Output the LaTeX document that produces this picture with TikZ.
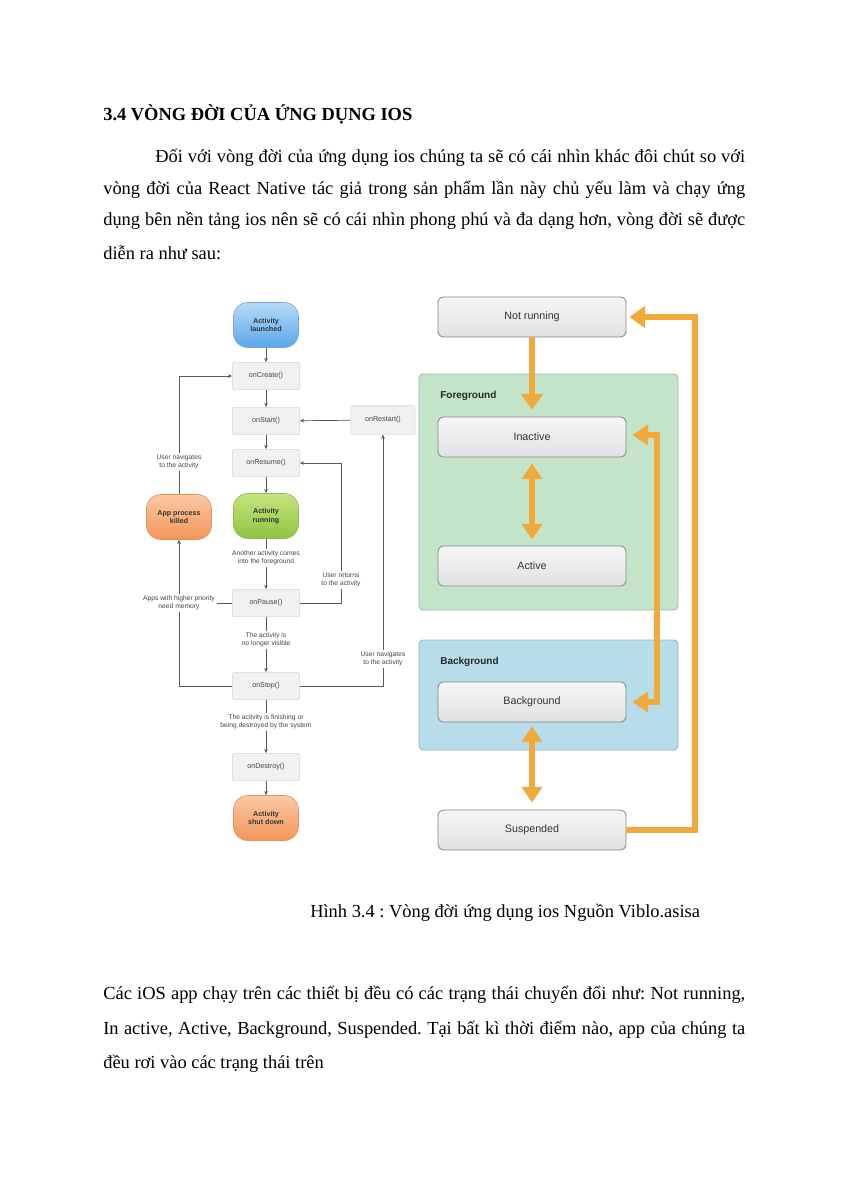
\documentclass[tikz,border=0pt]{standalone}
\usepackage{fontspec}
\setmainfont{Liberation Serif}
\newfontfamily\dsf{Liberation Sans}
\usetikzlibrary{arrows.meta,calc}
\frenchspacing
\definecolor{boxfill}{HTML}{F1F1F1}
\definecolor{boxline}{HTML}{D6D6D6}
\definecolor{lineg}{HTML}{5A5A5A}
\definecolor{labtext}{HTML}{444444}
\definecolor{blueT}{HTML}{B6DAF7}
\definecolor{blueB}{HTML}{5AA6EC}
\definecolor{blueL}{HTML}{79A7D6}
\definecolor{greenT}{HTML}{C6E47E}
\definecolor{greenB}{HTML}{8DC540}
\definecolor{greenL}{HTML}{93B85A}
\definecolor{orT}{HTML}{FBC9A3}
\definecolor{orB}{HTML}{F2955A}
\definecolor{orL}{HTML}{E5915C}
\definecolor{fgfill}{HTML}{C4E4CA}
\definecolor{fgline}{HTML}{9DBFA3}
\definecolor{bgfill}{HTML}{B7DDEA}
\definecolor{bgline}{HTML}{92B8C6}
\definecolor{orng}{HTML}{F0A93A}
\definecolor{stTop}{HTML}{F6F6F6}
\definecolor{stBot}{HTML}{E1E1E5}
\definecolor{stLine}{HTML}{7F8A80}
\begin{document}
\begin{tikzpicture}[x=0.7pt,y=-0.7pt,
  body/.style={anchor=base west, inner sep=0pt, font=\fontsize{12.9}{15}\selectfont\frenchspacing},
  lbox/.style={draw=boxline, fill=boxfill, rounded corners=1pt, minimum width=47pt, minimum height=19pt, inner sep=0pt, font=\dsf\fontsize{5}{6}\selectfont, text=labtext},
  pill/.style={rounded corners=10pt, minimum width=45.5pt, minimum height=31.5pt, inner sep=0pt, align=center, font=\dsf\bfseries\fontsize{5}{6}\selectfont, text=black!80},
  bluepill/.style={pill, draw=blueL, top color=blueT, bottom color=blueB},
  greenpill/.style={pill, draw=greenL, top color=greenT, bottom color=greenB},
  orpill/.style={pill, draw=orL, top color=orT, bottom color=orB},
  lab/.style={inner sep=1pt, align=center, font=\dsf\fontsize{4.7}{5.7}\selectfont, text=labtext},
  conn/.style={draw=lineg, line width=0.5pt},
  arr/.style={conn, -{Stealth[length=3pt,width=2.6pt]}},
  state/.style={draw=stLine, line width=0.6pt, rounded corners=4pt, top color=stTop, bottom color=stBot, minimum width=131.6pt, minimum height=28pt, inner sep=0pt, font=\dsf\fontsize{7.5}{9}\selectfont, text=black!80},
  group/.style={rounded corners=3pt, line width=0.6pt, inner sep=0pt},
  glab/.style={anchor=west, inner sep=0pt, font=\dsf\bfseries\fontsize{7}{8}\selectfont, text=black!85},
  oline/.style={draw=orng, line width=4.2pt, line join=miter},
  oarr/.style={oline, -{Triangle[width=15pt,length=11pt]}},
  oboth/.style={oline, {Triangle[width=14pt,length=11pt]}-{Triangle[width=14pt,length=11pt]}}
]
\useasboundingbox[fill=white] (0,0) rectangle (848,1200);

% ---------- text ----------
\node[body, font=\fontsize{12.9}{15}\selectfont\bfseries] (head) at (103,120) {3.4 VÒNG ĐỜI CỦA ỨNG DỤNG IOS};
\node[body] (p1) at (155,162) {\makebox[413pt][s]{Đối với vòng đời của ứng dụng ios chúng ta sẽ có cái nhìn khác đôi chút so với}};
\node[body] (p2) at (103,194) {\makebox[449.4pt][s]{vòng đời của React Native tác giả trong sản phẩm lần này chủ yếu làm và chạy ứng}};
\node[body] (p3) at (103,225) {\makebox[449.4pt][s]{dụng bên nền tảng ios nên sẽ có cái nhìn phong phú và đa dạng hơn, vòng đời sẽ được}};
\node[body] (p4) at (103,259) {diễn ra như sau:};

\node[body] (cap) at (310,917) {Hình 3.4 : Vòng đời ứng dụng ios Nguồn Viblo.asisa};

\node[body] (q1) at (103,999) {\makebox[449.4pt][s]{Các iOS app chạy trên các thiết bị đều có các trạng thái chuyển đổi như: Not running,}};
\node[body] (q2) at (103,1034) {\makebox[449.4pt][s]{In active, Active, Background, Suspended. Tại bất kì thời điểm nào, app của chúng ta}};
\node[body] (q3) at (103,1068) {đều rơi vào các trạng thái trên};

% ---------- Android lifecycle ----------
\node[bluepill] (launch) at (266,325) {Activity\\launched};
\node[lbox] (create) at (266,376) {onCreate()};
\node[lbox] (start) at (266,421) {onStart()};
\node[lbox] (resume) at (266,463) {onResume()};
\node[greenpill] (running) at (266,516) {Activity\\running};
\node[lab] (t1) at (266,558) {Another activity comes\\into the foreground};
\node[lbox] (pause) at (266,603) {onPause()};
\node[lab] (t2) at (266,640) {The activity is\\no longer visible};
\node[lbox] (stop) at (266,686) {onStop()};
\node[lab] (t3) at (266,722) {The activity is finishing or\\being destroyed by the system};
\node[lbox] (destroy) at (266,767) {onDestroy()};
\node[orpill] (shut) at (266,818) {Activity\\shut down};

\node[orpill] (killed) at (179,517) {App process\\killed};
\node[lab] (tnav) at (179,462) {User navigates\\to the activity};
\node[lab] (tapps) at (179,603) {Apps with higher priority\\need memory};

\node[lbox, minimum width=45pt, minimum height=20pt] (restart) at (383,420) {onRestart()};
\node[lab] (tret) at (341,580) {User returns\\to the activity};
\node[lab] (tnav2) at (383,659) {User navigates\\to the activity};

\draw[arr] (launch) -- (create);
\draw[arr] (create) -- (start);
\draw[arr] (start) -- (resume);
\draw[arr] (resume) -- (running);
\draw[conn] (running) -- (t1);
\draw[arr] (t1) -- (pause);
\draw[conn] (pause) -- (t2);
\draw[arr] (t2) -- (stop);
\draw[conn] (stop) -- (t3);
\draw[arr] (t3) -- (destroy);
\draw[arr] (destroy) -- (shut);

\draw[arr] (restart) -- (start);
\draw[conn] (stop.east) -| (tnav2.south);
\draw[arr] (tnav2.north) -- (restart.south);
\draw[conn] (pause.east) -| (tret.south);
\draw[arr] (tret.north) |- (resume.east);

\draw[conn] (stop.west) -| (tapps.south);
\draw[arr] (tapps.north) -- (killed.south);
\draw[conn] (pause.west) -- (tapps.east);
\draw[conn] (killed.north) -- (tnav.south);
\draw[arr] (tnav.north) |- (create.west);

% ---------- iOS states ----------
\node[group, draw=fgline, fill=fgfill, minimum width=181.3pt, minimum height=165.2pt] (fg) at (548.5,492) {};
\node[group, draw=bgline, fill=bgfill, minimum width=181.3pt, minimum height=77pt] (bg) at (548.5,695) {};
\node[glab] (fgl) at (440,396) {Foreground};
\node[glab] (bgl) at (440,662) {Background};

\node[state] (notrun) at (532,317) {Not running};
\node[state] (inact) at (532,437) {Inactive};
\node[state] (act) at (532,566) {Active};
\node[state] (bgs) at (532,702) {Background};
\node[state] (susp) at (532,830) {Suspended};

\coordinate (nrR) at ($(notrun.east)+(3,0)$);
\coordinate (iaR) at ($(inact.east)+(6,-2)$);
\coordinate (bgR) at ($(bgs.east)+(6,0)$);

\draw[oarr] (notrun.south) -- ($(inact.north)+(0,-7)$);
\draw[oboth] ($(inact.south)+(0,6)$) -- ($(act.north)+(0,-6)$);
\draw[oboth] ($(bgs.south)+(0,4)$) -- ($(susp.north)+(0,-7)$);
\draw[oboth] (iaR) -- ++(25,0) |- (bgR);
\draw[oarr] (susp.east) -- ++(69,0) |- (nrR);
\end{tikzpicture}
\end{document}
